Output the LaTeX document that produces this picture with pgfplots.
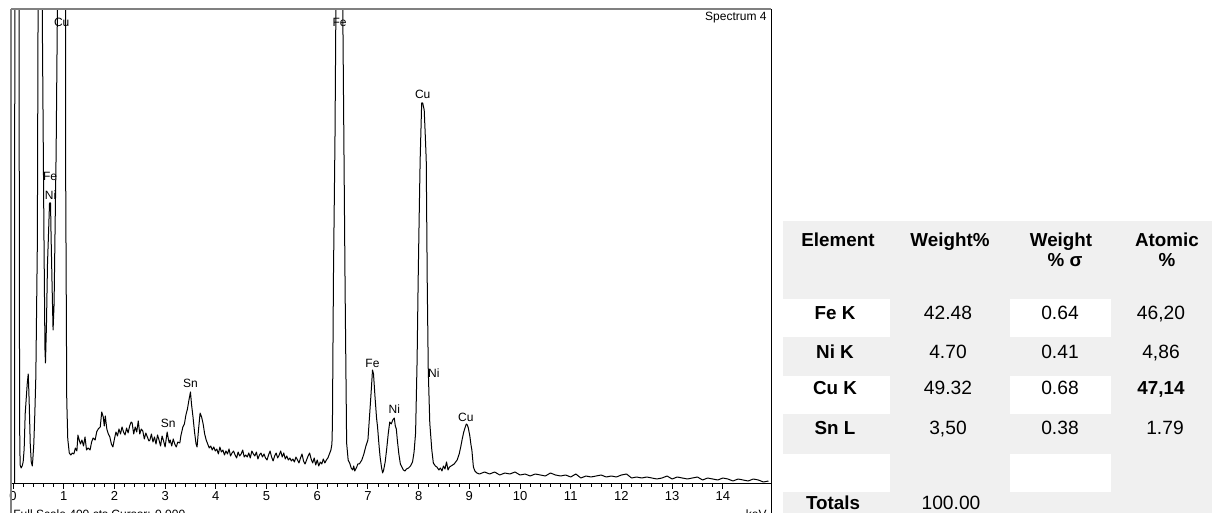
\documentclass[border=0pt]{standalone}
\usepackage{fontspec}
\setmainfont{Liberation Sans}
\usepackage{pgfplots}
\usepackage{pgfplotstable}
\pgfplotsset{compat=1.18}

\definecolor{tablegray}{RGB}{240,240,240}
\definecolor{framegray}{RGB}{128,128,128}

% EDS spectrum: energy (keV) and counts
\pgfplotstableread{
E cts
0.03 0
0.04 900
0.11 900
0.12 420
0.13 60
0.14 19
0.16 16
0.18 18
0.20 22
0.22 35
0.24 70
0.26 85
0.28 100
0.30 110
0.31 96
0.32 80
0.34 40
0.36 22
0.38 18
0.39 24
0.41 40
0.43 70
0.45 107
0.48 241
0.52 900
0.57 900
0.58 451
0.61 250
0.63 135
0.64 121
0.66 160
0.68 220
0.70 250
0.72 281
0.74 281
0.75 250
0.77 200
0.79 154
0.81 180
0.83 257
0.85 330
0.88 500
0.90 900
1.03 900
1.04 294
1.06 84
1.08 45
1.11 31
1.14 29
1.17 31
1.20 30
1.23 36
1.26 33
1.28 49
1.30 45
1.33 40
1.36 44
1.39 38
1.42 47
1.45 34
1.48 36
1.52 34
1.55 42
1.58 46
1.62 44
1.65 52
1.68 55
1.72 57
1.75 72
1.78 67
1.80 58
1.82 68
1.85 55
1.88 50
1.91 47
1.94 40
1.97 37
2.00 45
2.03 52
2.06 48
2.09 55
2.12 50
2.15 57
2.18 52
2.21 49
2.24 56
2.27 51
2.30 58
2.33 62
2.35 61
2.38 50
2.41 57
2.44 52
2.47 63
2.50 50
2.53 55
2.56 53
2.59 45
2.62 51
2.65 47
2.68 43
2.70 44
2.73 50
2.76 42
2.79 47
2.82 40
2.85 49
2.88 44
2.91 38
2.94 48
2.97 43
3.00 37
3.04 52
3.06 46
3.08 41
3.10 44
3.13 38
3.16 45
3.19 40
3.22 37
3.25 42
3.29 41
3.31 48
3.35 57
3.38 60
3.41 69
3.44 75
3.47 84
3.50 92
3.52 80
3.55 67
3.58 52
3.61 40
3.63 37
3.66 55
3.69 71
3.72 67
3.75 60
3.78 50
3.81 44
3.84 40
3.87 36
3.90 38
3.93 34
3.96 37
3.99 33
4.02 35
4.05 30
4.08 37
4.11 32
4.14 34
4.17 29
4.20 33
4.23 30
4.26 35
4.29 28
4.32 31
4.35 33
4.38 29
4.41 26
4.44 32
4.47 28
4.50 30
4.53 34
4.56 27
4.59 29
4.62 27
4.65 31
4.68 26
4.71 33
4.74 30
4.77 28
4.80 32
4.83 25
4.86 29
4.89 31
4.92 27
4.95 30
4.98 26
5.01 24
5.04 29
5.07 33
5.10 27
5.13 23
5.16 28
5.19 31
5.22 26
5.25 29
5.28 33
5.31 27
5.34 31
5.37 25
5.40 28
5.43 24
5.46 26
5.49 23
5.52 25
5.55 22
5.58 27
5.61 24
5.64 21
5.67 26
5.70 30
5.73 23
5.76 20
5.79 24
5.82 28
5.85 31
5.88 25
5.91 21
5.94 26
5.97 19
6.00 24
6.03 18
6.06 22
6.09 20
6.12 25
6.15 21
6.18 24
6.21 26
6.24 30
6.27 34
6.29 40
6.30 60
6.32 207
6.35 344
6.38 560
6.41 740
6.44 760
6.47 700
6.50 500
6.53 317
6.55 194
6.58 41
6.61 24
6.64 21
6.67 16
6.70 14
6.72 18
6.74 13
6.76 15
6.78 17
6.80 20
6.83 20
6.88 24
6.92 30
6.96 38
7.00 44
7.04 74
7.07 97
7.09 114
7.11 110
7.14 87
7.17 66
7.19 57
7.22 38
7.24 27
7.27 16
7.29 11
7.31 14
7.34 22
7.37 35
7.40 50
7.43 62
7.46 60
7.49 64
7.52 66
7.54 58
7.56 55
7.58 44
7.61 30
7.64 20
7.67 17
7.70 14
7.73 13
7.76 15
7.80 16
7.84 18
7.88 22
7.91 32
7.94 51
7.97 124
7.99 201
8.01 265
8.03 324
8.06 381
8.08 381
8.11 374
8.13 350
8.15 324
8.17 201
8.19 114
8.22 61
8.26 34
8.29 21
8.33 18
8.36 17
8.40 14
8.43 16
8.46 13
8.49 18
8.52 15
8.55 22
8.58 14
8.61 17
8.64 18
8.70 20
8.76 24
8.80 30
8.83 37
8.86 45
8.89 52
8.92 57
8.94 60
8.96 59
8.98 56
9.01 48
9.03 40
9.05 34
9.08 17
9.11 13
9.15 11
9.20 10
9.30 12
9.40 10
9.50 12
9.60 9
9.70 11
9.80 10
9.90 12
10.0 9
10.1 10
10.2 8
10.3 10
10.4 9
10.5 8
10.6 11
10.7 9
10.8 8
10.9 9
11.0 7
11.1 10
11.2 6
11.3 8
11.4 7
11.5 8
11.6 9
11.7 7
11.8 8
11.9 7
12.0 9
12.1 10
12.2 6
12.3 7
12.4 6
12.5 7
12.6 6
12.7 5
12.8 6
12.9 8
13.0 5
13.1 7
13.2 6
13.3 5
13.4 6
13.5 7
13.6 4
13.7 6
13.8 5
13.9 4
14.0 6
14.1 5
14.2 3
14.3 5
14.4 4
14.5 3
14.6 5
14.7 4
14.8 2
14.9 3
}\spectrum

\newcommand{\lbl}{\fontsize{6}{7}\selectfont}
\newcommand{\tb}{\fontsize{9.4}{11}\selectfont\bfseries}
\newcommand{\tn}{\fontsize{9.6}{11}\selectfont}

\begin{document}
\begin{tikzpicture}
\path[use as bounding box] (0,0) rectangle (606pt,-256.5pt);

\begin{axis}[
  at={(6pt,-242pt)}, anchor=south west,
  scale only axis,
  width=379.25pt, height=237.5pt,
  xmin=-0.02, xmax=14.94,
  ymin=0, ymax=475,
  axis x line*=bottom,
  hide y axis,
  x axis line style={black, line width=0.5pt},
  xtick={0,1,...,14},
  minor x tick num=4,
  tick align=outside,
  major tick length=2.5pt,
  minor tick length=1.5pt,
  tick style={black, line width=0.5pt},
  /pgf/number format/assume math mode=true,
  xticklabel style={font=\fontsize{6.5}{7}\selectfont, inner sep=0pt, anchor=north, yshift=-1.0pt},
]
\addplot[black, line width=0.5pt, line join=round] table[x=E, y=cts] {\spectrum};

\node[font=\lbl] at (axis cs:0.96,462) {Cu};
\node[font=\lbl] at (axis cs:6.44,462) {Fe};
\node[font=\lbl] at (axis cs:0.73,308) {Fe};
\node[font=\lbl] at (axis cs:0.74,289) {Ni};
\node[font=\lbl] at (axis cs:3.06,61) {Sn};
\node[font=\lbl] at (axis cs:3.50,101) {Sn};
\node[font=\lbl] at (axis cs:7.09,121) {Fe};
\node[font=\lbl] at (axis cs:7.52,75) {Ni};
\node[font=\lbl] at (axis cs:8.08,390) {Cu};
\node[font=\lbl] at (axis cs:8.30,111) {Ni};
\node[font=\lbl] at (axis cs:8.93,67) {Cu};
\end{axis}

\begin{scope}[x=0.5pt, y=-0.5pt]
  % spectrum window frame
  \draw[framegray, line width=1pt] (11,9) -- (771,9);
  \draw[framegray, line width=0.8pt] (11,9) -- (11,530);
  \draw[black, line width=0.5pt] (771,9) -- (771,530);
  \node[font=\lbl, anchor=base east, inner sep=0pt] at (767,21) {Spectrum 4};
  \node[font=\lbl, anchor=base west, inner sep=0pt] at (13,519) {Full Scale 400 cts Cursor: 0.000};
  \node[font=\lbl, anchor=base east, inner sep=0pt] at (767,519) {keV};

  % results table
  \fill[tablegray] (783,221) rectangle (1212,513);
  \foreach \ya/\yb in {299/337, 376/414, 454/492}{
    \fill[white] (783,\ya) rectangle (890,\yb);
    \fill[white] (1010,\ya) rectangle (1111,\yb);
  }
  \begin{scope}[every node/.style={anchor=base, inner sep=0pt}]
    \node[font=\tb] at (838,246.5) {Element};
    \node[font=\tb] at (950,246.5) {Weight\%};
    \node[font=\tb] at (1061,246.5) {Weight};
    \node[font=\tb] at (1167,246.5) {Atomic};
    \node[font=\tb] at (1065,266.5) {\% σ};
    \node[font=\tb] at (1167,266.5) {\%};

    \node[font=\tb] at (835,319.5) {Fe K};
    \node[font=\tn] at (948,319.5) {42.48};
    \node[font=\tn] at (1060,319.5) {0.64};
    \node[font=\tn] at (1161,319.5) {46,20};

    \node[font=\tb] at (835,358.5) {Ni K};
    \node[font=\tn] at (948,358.5) {4.70};
    \node[font=\tn] at (1060,358.5) {0.41};
    \node[font=\tn] at (1161,358.5) {4,86};

    \node[font=\tb] at (835,395) {Cu K};
    \node[font=\tn] at (948,395) {49.32};
    \node[font=\tn] at (1060,395) {0.68};
    \node[font=\tb] at (1161,395) {47,14};

    \node[font=\tb] at (835,435) {Sn L};
    \node[font=\tn] at (948,435) {3,50};
    \node[font=\tn] at (1060,435) {0.38};
    \node[font=\tn] at (1165,435) {1.79};

    \node[font=\tb] at (833,510) {Totals};
    \node[font=\tn] at (951,510) {100.00};
  \end{scope}
\end{scope}
\end{tikzpicture}
\end{document}
